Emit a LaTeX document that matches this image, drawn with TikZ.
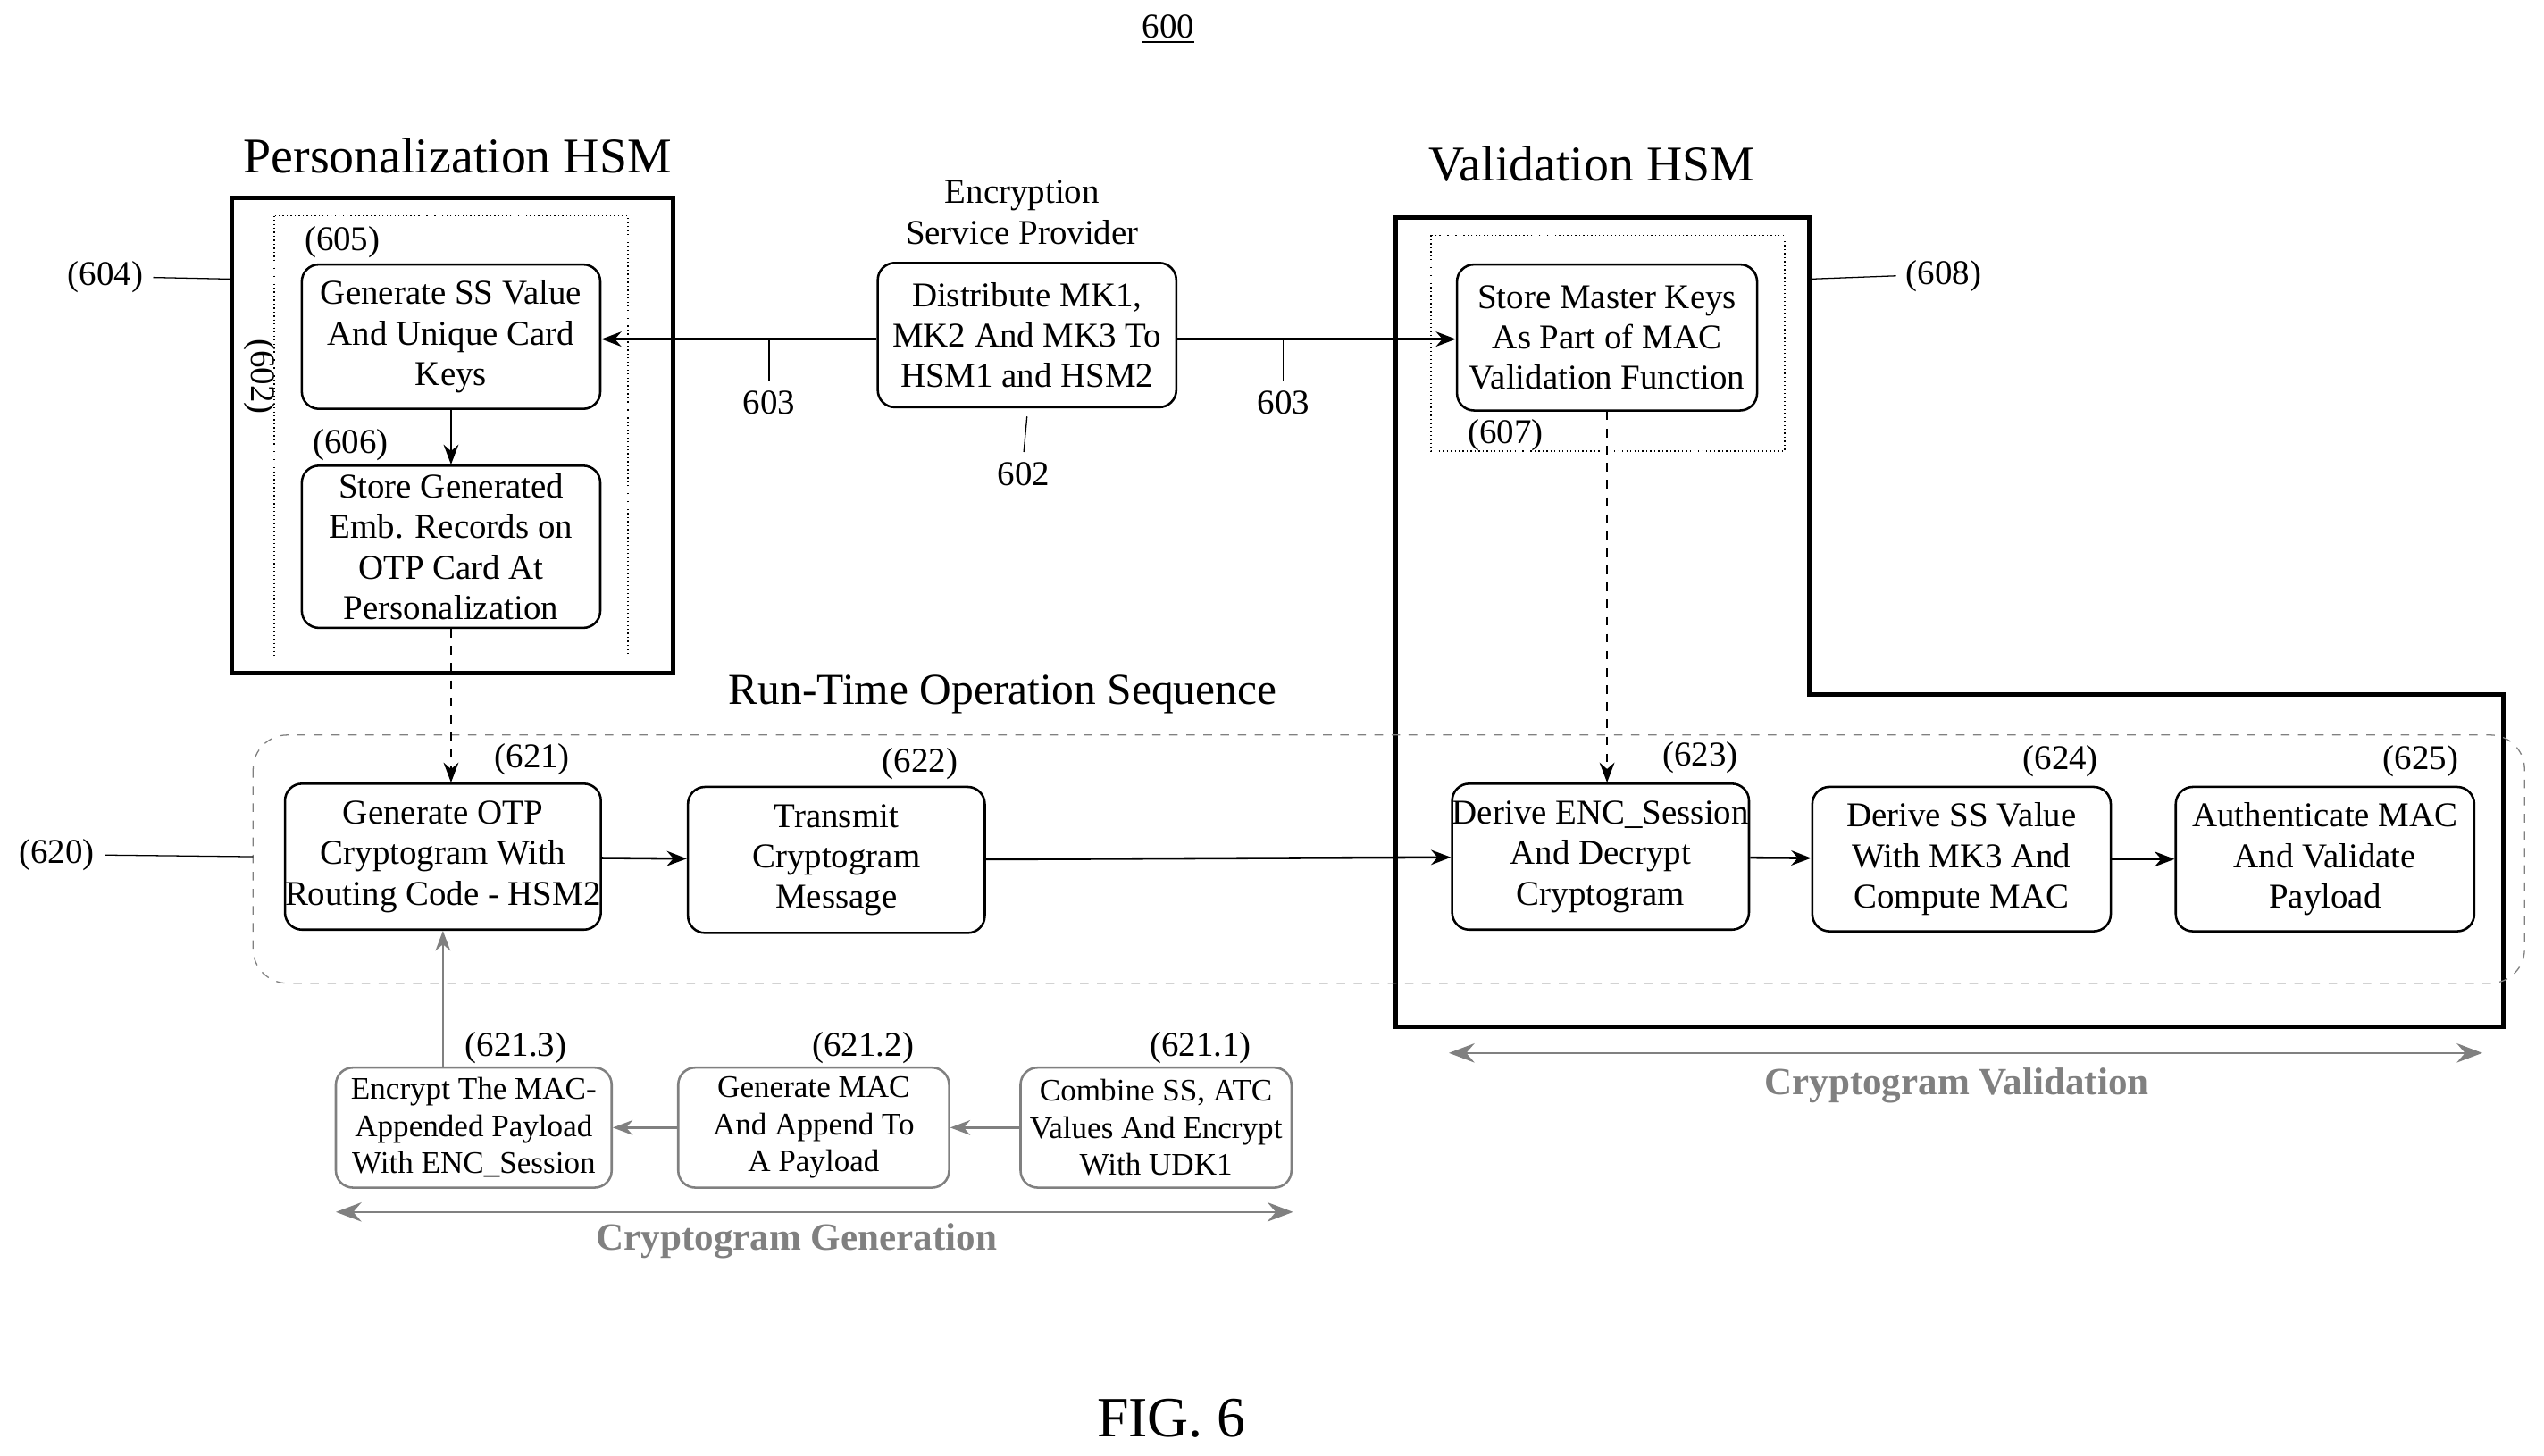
\documentclass[tikz,border=0pt]{standalone}
\usepackage{fontspec}
\setmainfont{Liberation Serif}
\usetikzlibrary{positioning,arrows.meta}
\begin{document}
\begin{tikzpicture}[x=0.02cm,y=-0.02cm,
  txt/.style={font=\fontsize{12.2}{14.2}\selectfont,align=center},
  proc/.style={draw,rounded corners=6pt,thick,txt,inner sep=0pt},
  gproc/.style={draw=gray,rounded corners=6pt,thick,align=center,inner sep=0pt,
    font=\fontsize{11}{13}\selectfont},
  lbl/.style={font=\fontsize{12.2}{14.2}\selectfont},
  title/.style={font=\fontsize{17.5}{21}\selectfont},
  arr/.style={-{Stealth[length=7pt]},thick},
  garr/.style={-{Stealth[length=7pt]},thick,gray},
  span/.style={{Stealth[length=9pt]}-{Stealth[length=9pt]},thick,gray}]
\useasboundingbox (0,0) rectangle (1568,897);

\node[lbl] (n600) at (720,18) {\underline{600}};

% personalization HSM
\node[title] (tperso) at (282,96) {Personalization HSM};
\draw[line width=1.6pt] (143,122) rectangle (415,415);
\draw[densely dotted] (169,133) rectangle (387,405);
\node[proc] (s605) at (278,207.5) [minimum width=3.68cm,minimum height=1.78cm] {Generate SS Value\\And Unique Card\\Keys};
\node[lbl] (l605) at (211,149) {(605)};
\node[proc] (s606) at (278,337) [minimum width=3.68cm,minimum height=2cm] {Store Generated\\Emb. Records on\\OTP Card At\\Personalization};
\node[lbl] (l606) at (216,274) {(606)};
\node[lbl,rotate=-90] (l602a) at (160,232) {(602)};
\node[lbl] (l604) at (65,171) {(604)};
\coordinate (c604) at (143,172);
\draw (l604.east) -- (c604);

% encryption service provider
\node[lbl,align=center] (tesp) at (630,131) {Encryption\\Service Provider};
\node[proc] (esp) at (633,206.5) [minimum width=3.68cm,minimum height=1.78cm] {Distribute MK1,\\MK2 And MK3 To\\HSM1 and HSM2};
\node[lbl] (l602) at (631,292) {602};
\draw (esp.south) ++(0,5) -- (l602.north);

% validation HSM
\node[title] (tval) at (981,101) {Validation HSM};
\draw[line width=1.6pt] (860,134) -- (1115,134) -- (1115,428) -- (1543,428) -- (1543,633) -- (860,633) -- cycle;
\draw[densely dotted] (882,145) rectangle (1100,278);
\node[proc] (s607) at (990.5,208) [minimum width=3.7cm,minimum height=1.8cm] {Store Master Keys\\As Part of MAC\\Validation Function};
\node[lbl] (l607) at (928,268) {(607)};
\node[lbl] (l608) at (1198,170) {(608)};
\coordinate (c608) at (1115,172);
\draw (c608) -- (l608.west);

% distribution arrows
\coordinate (c605e) at (s605.east|-0,209);
\coordinate (c607w) at (s607.west|-0,209);
\draw[arr] (esp.west|-0,209) -- (c605e);
\draw[arr] (esp.east|-0,209) -- (c607w);
\node[lbl] (l603a) at (474,248) {603};
\node[lbl] (l603b) at (791,248) {603};
\draw (474,209) -- (l603a.north);
\draw (791,209) -- (l603b.north);

% run-time sequence
\node[lbl,font=\fontsize{15.5}{18}\selectfont] (trun) at (618,428) {Run-Time Operation Sequence};
\draw[dashed,gray,rounded corners=12pt] (156,453) rectangle (1556,606);
\node[lbl] (l620) at (35,527) {(620)};
\coordinate (c620) at (156,528);
\draw (l620.east) -- (c620);

\node[proc] (s621) at (273,528) [minimum width=3.88cm,minimum height=1.8cm] {Generate OTP\\Cryptogram With\\Routing Code - HSM2};
\node[lbl] (l621) at (328,468) {(621)};
\node[proc] (s622) at (515.5,530) [minimum width=3.66cm,minimum height=1.8cm] {Transmit\\Cryptogram\\Message};
\node[lbl] (l622) at (567,471) {(622)};
\node[proc] (s623) at (986.5,528) [minimum width=3.66cm,minimum height=1.8cm] {Derive ENC\_Session\\And Decrypt\\Cryptogram};
\node[lbl] (l623) at (1048,467) {(623)};
\node[proc] (s624) at (1209,529.5) [minimum width=3.68cm,minimum height=1.78cm] {Derive SS Value\\With MK3 And\\Compute MAC};
\node[lbl] (l624) at (1270,469) {(624)};
\node[proc] (s625) at (1433,529.5) [minimum width=3.68cm,minimum height=1.78cm] {Authenticate MAC\\And Validate\\Payload};
\node[lbl] (l625) at (1492,469) {(625)};

\draw[arr] (s605) -- (s606);
\draw[arr,dashed] (s606.south) -- (s621.north-|s606.south);
\draw[arr,dashed] (s607.south) -- (s623.north-|s607.south);
\draw[arr] (s621) -- (s622);
\draw[arr] (s622) -- (s623);
\draw[arr] (s623) -- (s624);
\draw[arr] (s624) -- (s625);

% cryptogram generation
\node[gproc] (g3) at (292,695) [minimum width=3.4cm,minimum height=1.48cm] {Encrypt The MAC-\\Appended Payload\\With ENC\_Session};
\node[lbl] (l213) at (318,646) {(621.3)};
\node[gproc] (g2) at (501.5,695) [minimum width=3.34cm,minimum height=1.48cm] {Generate MAC\\And Append To\\A Payload};
\node[lbl] (l212) at (532,646) {(621.2)};
\node[gproc] (g1) at (712.5,695) [minimum width=3.34cm,minimum height=1.48cm] {Combine SS, ATC\\Values And Encrypt\\With UDK1};
\node[lbl] (l211) at (740,646) {(621.1)};
\draw[garr] (g1) -- (g2);
\draw[garr] (g2) -- (g3);
\draw[garr] (g3.north-|s621.south) -- (s621.south);

\coordinate (gl) at (207,747);
\coordinate (gr) at (797,747);
\draw[span] (gl) -- (gr);
\node[lbl,text=gray,font=\bfseries\fontsize{13.5}{16}\selectfont] (tgen) at (491,765) {Cryptogram Generation};
\coordinate (vl) at (893,649);
\coordinate (vr) at (1530,649);
\draw[span] (vl) -- (vr);
\node[lbl,text=gray,font=\bfseries\fontsize{13.5}{16}\selectfont] (tval2) at (1206,669) {Cryptogram Validation};

\node[font=\fontsize{20}{24}\selectfont] (fig) at (722,874) {FIG. 6};
\end{tikzpicture}
\end{document}
